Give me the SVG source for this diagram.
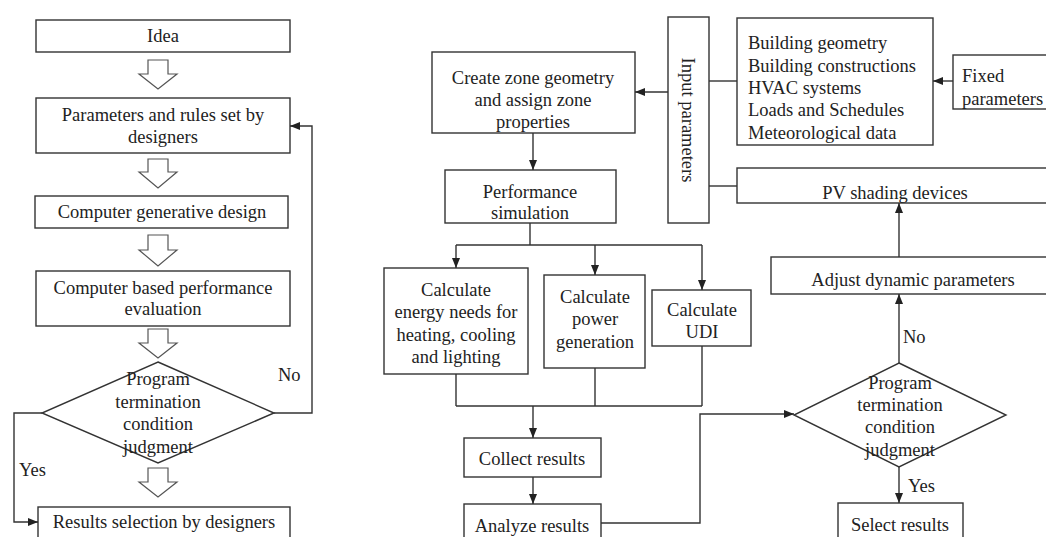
<svg xmlns="http://www.w3.org/2000/svg" width="1046" height="537" viewBox="0 0 1046 537">
<defs>
<marker id="ah" markerUnits="userSpaceOnUse" markerWidth="10" markerHeight="10" viewBox="0 0 10 10" refX="10" refY="5" orient="auto">
<path d="M0,1 L10,5 L0,9 z" fill="#222"/>
</marker>
</defs>
<style>
rect, polygon.box { fill: #fff; stroke: #333; stroke-width: 1.4; }
.hol { fill: #fff; stroke: #555; stroke-width: 1.2; }
text { font-family: "Liberation Serif", "Times New Roman", serif; font-size: 18.5px; fill: #222; }
.c { text-anchor: middle; }
.ln { fill: none; stroke: #333; stroke-width: 1.4; }
.ar { fill: none; stroke: #333; stroke-width: 1.4; marker-end: url(#ah); }
</style>
<rect x="0" y="0" width="1046" height="537" style="fill:#fff;stroke:none"/>

<!-- Left flow -->
<g id="idea"><rect x="36" y="20" width="254" height="32"/><text class="c" x="163" y="42">Idea</text></g>
<g id="params"><rect x="36" y="98" width="254" height="55"/><text class="c" x="163" y="121">Parameters and rules set by</text><text class="c" x="163" y="143">designers</text></g>
<g id="generative"><rect x="35" y="196" width="253" height="32"/><text class="c" x="162" y="218">Computer generative design</text></g>
<g id="evaluation"><rect x="36" y="271" width="254" height="55"/><text class="c" x="163" y="294">Computer based performance</text><text class="c" x="163" y="315">evaluation</text></g>
<g id="judge1"><polygon class="box" points="158,362 274,413 158,463 42,413"/><text class="c" x="158" y="385">Program</text><text class="c" x="158" y="408">termination</text><text class="c" x="158" y="430">condition</text><text class="c" x="158" y="453">judgment</text></g>
<g id="selection"><rect x="38" y="507" width="252" height="40"/><text class="c" x="164" y="528">Results selection by designers</text></g>

<g id="hollow-arrows">
<polygon class="hol" points="148,60 168,60 168,74 177,74 158,89 139,74 148,74"/>
<polygon class="hol" points="148,159 168,159 168,172 177,172 158,188 139,172 148,172"/>
<polygon class="hol" points="148,235 168,235 168,250 177,250 158,266 139,250 148,250"/>
<polygon class="hol" points="148,329 168,329 168,343 177,343 158,358 139,343 148,343"/>
<polygon class="hol" points="148,468 168,468 168,482 177,482 158,497 139,482 148,482"/>
</g>

<!-- Right flow -->
<g id="create-zone"><rect x="432" y="52" width="203" height="81"/><text class="c" x="533" y="84">Create zone geometry</text><text class="c" x="533" y="106">and assign zone</text><text class="c" x="533" y="128">properties</text></g>
<g id="input-params"><rect x="668" y="17" width="41" height="206"/><text class="c" transform="translate(682,120) rotate(90)" x="0" y="0">Input parameters</text></g>
<g id="building"><rect x="737" y="18" width="196" height="127"/>
<text x="748" y="49">Building  geometry</text>
<text x="748" y="72">Building  constructions</text>
<text x="748" y="94">HVAC systems</text>
<text x="748" y="116">Loads and Schedules</text>
<text x="748" y="139">Meteorological  data</text></g>
<g id="fixed"><rect x="953" y="55" width="100" height="54"/><text x="962" y="82">Fixed</text><text x="962" y="105">parameters</text></g>
<g id="pv"><rect x="737" y="168" width="316" height="35"/><text class="c" x="895" y="199">PV shading devices</text></g>
<g id="perf-sim"><rect x="445" y="170" width="171" height="53"/><text class="c" x="530" y="198">Performance</text><text class="c" x="530" y="219">simulation</text></g>
<g id="calc-energy"><rect x="384" y="268" width="144" height="106"/><text class="c" x="456" y="296">Calculate</text><text class="c" x="456" y="318">energy needs for</text><text class="c" x="456" y="341">heating, cooling</text><text class="c" x="456" y="363">and lighting</text></g>
<g id="calc-power"><rect x="544" y="275" width="101" height="93"/><text class="c" x="595" y="303">Calculate</text><text class="c" x="595" y="325">power</text><text class="c" x="595" y="348">generation</text></g>
<g id="calc-udi"><rect x="652" y="290" width="99" height="56"/><text class="c" x="702" y="316">Calculate</text><text class="c" x="702" y="338">UDI</text></g>
<g id="collect"><rect x="464" y="438" width="137" height="39"/><text class="c" x="532" y="465">Collect results</text></g>
<g id="analyze"><rect x="464" y="504" width="137" height="45"/><text class="c" x="532" y="532">Analyze results</text></g>
<g id="adjust"><rect x="771" y="257" width="282" height="37"/><text class="c" x="913" y="286">Adjust dynamic parameters</text></g>
<g id="judge2"><polygon class="box" points="899,363 1006,415 899,467 794,415"/><text class="c" x="900" y="389">Program</text><text class="c" x="900" y="411">termination</text><text class="c" x="900" y="433">condition</text><text class="c" x="900" y="456">judgment</text></g>
<g id="select"><rect x="838" y="503" width="125" height="46"/><text class="c" x="900" y="531">Select results</text></g>

<g id="connectors">
<polyline class="ar" points="274,413 312,413 312,126 290,126"/>
<polyline class="ar" points="42,413 14,413 14,522 38,522"/>
<line class="ar" x1="668" y1="92" x2="635" y2="92"/>
<line class="ln" x1="709" y1="81" x2="737" y2="81"/>
<line class="ar" x1="953" y1="81" x2="933" y2="81"/>
<line class="ln" x1="709" y1="186" x2="737" y2="186"/>
<line class="ar" x1="533" y1="133" x2="533" y2="170"/>
<polyline class="ln" points="530,223 530,245"/>
<line class="ln" x1="456" y1="245" x2="702" y2="245"/>
<line class="ar" x1="456" y1="245" x2="456" y2="268"/>
<line class="ar" x1="595" y1="245" x2="595" y2="275"/>
<line class="ar" x1="702" y1="245" x2="702" y2="290"/>
<line class="ln" x1="456" y1="374" x2="456" y2="406"/>
<line class="ln" x1="595" y1="368" x2="595" y2="406"/>
<line class="ln" x1="702" y1="346" x2="702" y2="406"/>
<line class="ln" x1="456" y1="406" x2="702" y2="406"/>
<line class="ar" x1="533" y1="406" x2="533" y2="438"/>
<line class="ar" x1="533" y1="477" x2="533" y2="504"/>
<polyline class="ar" points="601,523 700,523 700,414 794,414"/>
<line class="ar" x1="899" y1="363" x2="899" y2="294"/>
<line class="ar" x1="899" y1="257" x2="899" y2="203"/>
<line class="ar" x1="899" y1="467" x2="899" y2="503"/>
</g>
<g id="labels">
<text x="278" y="381">No</text>
<text x="19" y="476">Yes</text>
<text x="903" y="343">No</text>
<text x="908" y="492">Yes</text>
</g>
</svg>
